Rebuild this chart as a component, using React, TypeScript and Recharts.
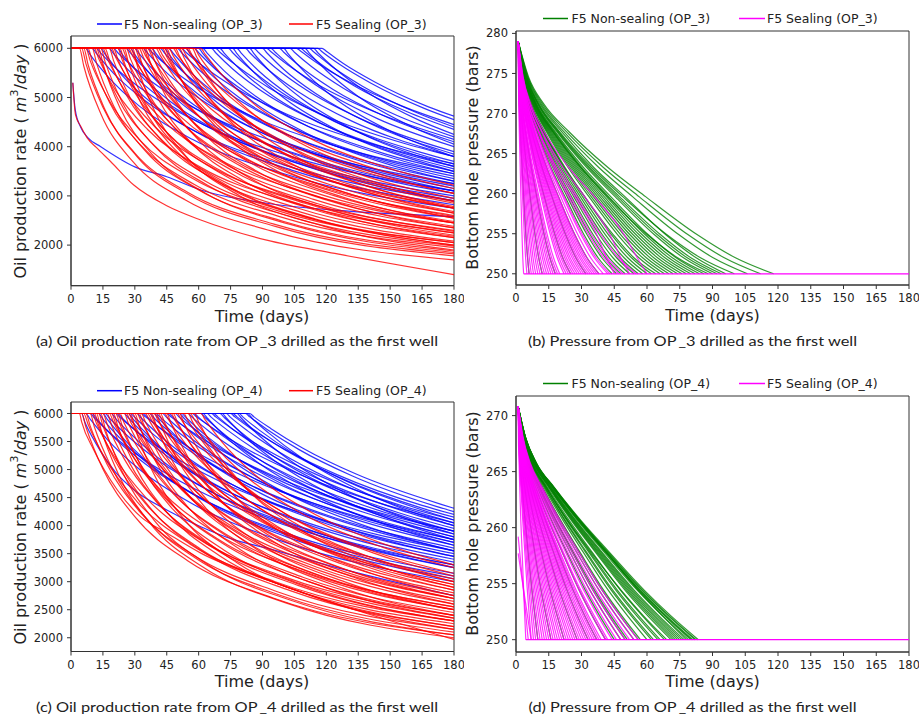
import React from 'react'
import { LineChart, Line, XAxis, YAxis, ReferenceArea } from 'recharts'

const FONT = 'DejaVu Sans, sans-serif'

// axis ticks
const dayTicks = [0, 15, 30, 45, 60, 75, 90, 105, 120, 135, 150, 165, 180]
const lastDay = 180
const rateTicksOP3 = [2000, 3000, 4000, 5000, 6000]
const rateTicksOP4 = [2000, 2500, 3000, 3500, 4000, 4500, 5000, 5500, 6000]
const bhpTicksOP3 = [250, 255, 260, 265, 270, 275, 280]
const bhpTicksOP4 = [250, 255, 260, 265, 270]

// (a) oil rate, OP_3 first. each row: day, rate, day, rate ...
const rateOP3NonSealing = [
  [0.85, 5300, 2, 4750, 4.5, 4400, 8, 4180, 14, 4000, 30, 3590, 45, 3390, 61, 3120, 92, 2850, 124, 2710, 180, 2580],
  [0, 6000, 7, 6000, 9, 5870, 17, 5440, 32, 4830, 57, 4150, 97, 3490, 180, 2750],
  [0, 6000, 10, 6000, 12, 5890, 20, 5490, 35, 4930, 60, 4280, 100, 3630, 180, 2900],
  [0, 6000, 14, 6000, 16, 5880, 24, 5450, 39, 4850, 64, 4180, 104, 3520, 180, 2820],
  [0, 6000, 18, 6000, 20, 5890, 28, 5510, 43, 4960, 68, 4320, 108, 3670, 180, 3000],
  [0, 6000, 22, 6000, 24, 5880, 32, 5480, 47, 4910, 72, 4250, 112, 3590, 180, 2950],
  [0, 6000, 26, 6000, 28, 5900, 36, 5530, 51, 4990, 76, 4360, 116, 3720, 180, 3100],
  [0, 6000, 30, 6000, 32, 5890, 40, 5500, 55, 4940, 80, 4290, 120, 3640, 180, 3050],
  [0, 6000, 34, 6000, 36, 5900, 44, 5540, 59, 5020, 84, 4400, 124, 3760, 180, 3200],
  [0, 6000, 38, 6000, 40, 5890, 48, 5510, 63, 4960, 88, 4320, 128, 3680, 180, 3150],
  [0, 6000, 42, 6000, 44, 5900, 52, 5550, 67, 5040, 92, 4430, 132, 3790, 180, 3300],
  [0, 6000, 46, 6000, 48, 5900, 56, 5520, 71, 4980, 96, 4360, 136, 3710, 180, 3250],
  [0, 6000, 50, 6000, 52, 5910, 60, 5570, 75, 5060, 100, 4460, 140, 3820, 180, 3400],
  [0, 6000, 54, 6000, 56, 5900, 64, 5540, 79, 5000, 104, 4380, 144, 3740, 180, 3350],
  [0, 6000, 58, 6000, 60, 5910, 68, 5570, 83, 5080, 108, 4480, 148, 3850, 180, 3500],
  [0, 6000, 62, 6000, 64, 5900, 72, 5540, 87, 5020, 112, 4400, 152, 3760, 180, 3450],
  [0, 6000, 66, 6000, 68, 5910, 76, 5580, 91, 5090, 116, 4500, 156, 3870, 180, 3600],
  [0, 6000, 70, 6000, 72, 5900, 80, 5550, 95, 5030, 120, 4420, 160, 3780, 180, 3550],
  [0, 6000, 74, 6000, 76, 5910, 84, 5590, 99, 5100, 124, 4510, 164, 3890, 180, 3700],
  [0, 6000, 78, 6000, 80, 5900, 88, 5550, 103, 5040, 128, 4430, 168, 3790, 180, 3650],
  [0, 6000, 82, 6000, 84, 5910, 92, 5590, 107, 5110, 132, 4520, 172, 3900, 180, 3800],
  [0, 6000, 86, 6000, 88, 5920, 96, 5610, 111, 5140, 136, 4570, 176, 3950, 180, 3900],
  [0, 6000, 90, 6000, 92, 5910, 100, 5570, 115, 5080, 140, 4480, 180, 3850],
  [0, 6000, 94, 6000, 96, 5920, 104, 5610, 119, 5140, 144, 4570, 180, 4000],
  [0, 6000, 98, 6000, 100, 5920, 108, 5620, 123, 5170, 148, 4610, 180, 4100],
  [0, 6000, 103, 6000, 105, 5920, 113, 5630, 128, 5190, 153, 4640, 180, 4200],
  [0, 6000, 108, 6000, 110, 5930, 118, 5660, 133, 5240, 158, 4710, 180, 4350],
  [0, 6000, 112, 6000, 114, 5930, 122, 5650, 137, 5230, 162, 4700, 180, 4400],
  [0, 6000, 116, 6000, 118, 5930, 126, 5680, 141, 5290, 166, 4780, 180, 4550],
  [0, 6000, 118, 6000, 120, 5940, 128, 5690, 143, 5310, 168, 4810, 180, 4620],
  [0, 6000, 12, 6000, 14, 5900, 22, 5560, 37, 5060, 62, 4450, 102, 3820, 180, 3100],
  [0, 6000, 20, 6000, 22, 5910, 30, 5590, 45, 5110, 70, 4530, 110, 3910, 180, 3250],
  [0, 6000, 28, 6000, 30, 5870, 38, 5440, 53, 4840, 78, 4160, 118, 3500, 180, 2900],
  [0, 6000, 36, 6000, 38, 5920, 46, 5620, 61, 5160, 86, 4600, 126, 3990, 180, 3450],
  [0, 6000, 44, 6000, 46, 5880, 54, 5470, 69, 4890, 94, 4230, 134, 3580, 180, 3100],
  [0, 6000, 52, 6000, 54, 5920, 62, 5640, 77, 5200, 102, 4650, 142, 4050, 180, 3650],
  [0, 6000, 60, 6000, 62, 5890, 70, 5500, 85, 4930, 110, 4290, 150, 3630, 180, 3300],
  [0, 6000, 68, 6000, 70, 5920, 78, 5640, 93, 5200, 118, 4650, 158, 4050, 180, 3800],
  [0, 6000, 76, 6000, 78, 5890, 86, 5510, 101, 4960, 126, 4320, 166, 3670, 180, 3500],
  [0, 6000, 84, 6000, 86, 5890, 94, 5510, 109, 4960, 134, 4320, 174, 3670, 180, 3600],
  [0, 6000, 92, 6000, 94, 5930, 102, 5660, 117, 5240, 142, 4720, 180, 4150],
  [0, 6000, 100, 6000, 102, 5890, 110, 5510, 125, 4950, 150, 4320, 180, 3800],
  [0, 6000, 106, 6000, 108, 5940, 116, 5690, 131, 5310, 156, 4820, 180, 4450],
  [0, 6000, 110, 6000, 112, 5900, 120, 5550, 135, 5020, 160, 4410, 180, 4050],
  [0, 6000, 114, 6000, 116, 5910, 124, 5590, 139, 5110, 164, 4530, 180, 4250],
]

const rateOP3Sealing = [
  [0.85, 5300, 2.1, 4650, 4.5, 4420, 7.6, 4180, 12, 3980, 18.6, 3700, 29.5, 3220, 45, 2800, 61, 2510, 92, 2100, 124, 1830, 180, 1400],
  [0, 6000, 4, 6000, 6, 5640, 14, 4670, 29, 3700, 54, 2910, 94, 2290, 180, 1700],
  [0, 6000, 5, 6000, 7, 5690, 15, 4800, 30, 3870, 55, 3070, 95, 2430, 180, 1820],
  [0, 6000, 6, 6000, 8, 5670, 16, 4750, 31, 3800, 56, 3010, 96, 2380, 180, 1780],
  [0, 6000, 8, 6000, 10, 5730, 18, 4910, 33, 4020, 58, 3230, 98, 2580, 180, 1950],
  [0, 6000, 10, 6000, 12, 5700, 20, 4830, 35, 3910, 60, 3120, 100, 2480, 180, 1880],
  [0, 6000, 12, 6000, 14, 5750, 22, 4980, 37, 4120, 62, 3330, 102, 2670, 180, 2050],
  [0, 6000, 14, 6000, 16, 5730, 24, 4910, 39, 4020, 64, 3220, 104, 2570, 180, 1980],
  [0, 6000, 16, 6000, 18, 5770, 26, 5050, 41, 4210, 66, 3430, 106, 2760, 180, 2150],
  [0, 6000, 18, 6000, 20, 5750, 28, 4980, 43, 4110, 68, 3320, 108, 2670, 180, 2080],
  [0, 6000, 20, 6000, 22, 5780, 30, 5100, 45, 4290, 70, 3520, 110, 2850, 180, 2250],
  [0, 6000, 22, 6000, 24, 5770, 32, 5040, 47, 4200, 72, 3420, 112, 2750, 180, 2180],
  [0, 6000, 24, 6000, 26, 5800, 34, 5160, 49, 4370, 74, 3610, 114, 2930, 180, 2350],
  [0, 6000, 26, 6000, 28, 5780, 36, 5100, 51, 4280, 76, 3510, 116, 2840, 180, 2280],
  [0, 6000, 28, 6000, 30, 5810, 38, 5200, 53, 4450, 78, 3690, 118, 3020, 180, 2450],
  [0, 6000, 30, 6000, 32, 5800, 40, 5150, 55, 4360, 80, 3600, 120, 2920, 180, 2380],
  [0, 6000, 32, 6000, 34, 5820, 42, 5250, 57, 4520, 82, 3770, 122, 3100, 180, 2550],
  [0, 6000, 34, 6000, 36, 5810, 44, 5200, 59, 4430, 84, 3680, 124, 3000, 180, 2480],
  [0, 6000, 36, 6000, 38, 5840, 46, 5290, 61, 4580, 86, 3850, 126, 3170, 180, 2650],
  [0, 6000, 38, 6000, 40, 5820, 48, 5240, 63, 4500, 88, 3760, 128, 3080, 180, 2580],
  [0, 6000, 40, 6000, 42, 5850, 50, 5330, 65, 4640, 90, 3920, 130, 3250, 180, 2750],
  [0, 6000, 43, 6000, 45, 5830, 53, 5280, 68, 4560, 93, 3820, 133, 3150, 180, 2680],
  [0, 6000, 46, 6000, 48, 5850, 56, 5350, 71, 4690, 96, 3970, 136, 3300, 180, 2850],
  [0, 6000, 49, 6000, 51, 5840, 59, 5310, 74, 4600, 99, 3880, 139, 3200, 180, 2780],
  [0, 6000, 52, 6000, 54, 5860, 62, 5380, 77, 4720, 102, 4020, 142, 3350, 180, 2950],
  [0, 6000, 55, 6000, 57, 5850, 65, 5330, 80, 4650, 105, 3930, 145, 3250, 180, 2880],
  [0, 6000, 58, 6000, 60, 5860, 68, 5400, 83, 4760, 108, 4070, 148, 3400, 180, 3050],
  [0, 6000, 61, 6000, 63, 5880, 71, 5460, 86, 4870, 111, 4200, 151, 3540, 180, 3220],
  [0, 6000, 15, 6000, 17, 5800, 25, 5160, 40, 4380, 65, 3610, 105, 2940, 180, 2300],
  [0, 6000, 25, 6000, 27, 5710, 35, 4870, 50, 3970, 75, 3170, 115, 2530, 180, 2000],
  [0, 6000, 35, 6000, 37, 5750, 45, 4990, 60, 4130, 85, 3340, 125, 2680, 180, 2200],
  [0, 6000, 45, 6000, 47, 5790, 55, 5130, 70, 4320, 95, 3550, 135, 2880, 180, 2450],
  [0, 6000, 7, 6000, 9, 5750, 17, 5010, 32, 4150, 57, 3360, 97, 2700, 180, 2050],
  [0, 6000, 11, 6000, 13, 5790, 21, 5140, 36, 4350, 61, 3580, 101, 2910, 180, 2250],
  [0, 6000, 19, 6000, 21, 5820, 29, 5240, 44, 4500, 69, 3760, 109, 3080, 180, 2450],
  [0, 6000, 23, 6000, 25, 5720, 33, 4880, 48, 3980, 73, 3190, 113, 2540, 180, 2000],
  [0, 6000, 27, 6000, 29, 5840, 37, 5300, 52, 4590, 77, 3860, 117, 3190, 180, 2600],
  [0, 6000, 31, 6000, 33, 5740, 41, 4970, 56, 4100, 81, 3310, 121, 2660, 180, 2150],
  [0, 6000, 33, 6000, 35, 5850, 43, 5350, 58, 4690, 83, 3980, 123, 3300, 180, 2750],
  [0, 6000, 37, 6000, 39, 5780, 47, 5100, 62, 4280, 87, 3510, 127, 2840, 180, 2350],
  [0, 6000, 41, 6000, 43, 5860, 51, 5400, 66, 4760, 91, 4060, 131, 3400, 180, 2900],
  [0, 6000, 44, 6000, 46, 5810, 54, 5200, 69, 4430, 94, 3670, 134, 3000, 180, 2550],
  [0, 6000, 48, 6000, 50, 5870, 58, 5440, 73, 4830, 98, 4150, 138, 3490, 180, 3050],
  [0, 6000, 51, 6000, 53, 5820, 61, 5220, 76, 4470, 101, 3720, 141, 3050, 180, 2650],
  [0, 6000, 54, 6000, 56, 5880, 64, 5460, 79, 4860, 104, 4200, 144, 3540, 180, 3150],
  [0, 6000, 57, 6000, 59, 5830, 67, 5250, 82, 4520, 107, 3770, 147, 3100, 180, 2750],
  [0, 6000, 13, 6000, 15, 5690, 23, 4790, 38, 3850, 63, 3060, 103, 2420, 180, 1850],
  [0, 6000, 29, 6000, 31, 5670, 39, 4750, 54, 3810, 79, 3010, 119, 2380, 180, 1900],
]

// (c) oil rate, OP_4 first
const rateOP4NonSealing = [
  [0, 6000, 5, 6000, 6.5, 5850, 10, 5580, 14, 5320, 21, 4950, 29.5, 4640, 45, 4280, 61, 3980, 76.5, 3750, 92, 3600, 124, 3260, 180, 2750],
  [0, 6000, 7, 6000, 9, 5900, 17, 5540, 32, 5010, 57, 4390, 97, 3750, 180, 3000],
  [0, 6000, 10, 6000, 12, 5910, 20, 5580, 35, 5100, 60, 4510, 100, 3880, 180, 3150],
  [0, 6000, 13, 6000, 15, 5900, 23, 5560, 38, 5050, 63, 4450, 103, 3810, 180, 3100],
  [0, 6000, 16, 6000, 18, 5920, 26, 5620, 41, 5160, 66, 4600, 106, 3990, 180, 3300],
  [0, 6000, 19, 6000, 21, 5910, 29, 5600, 44, 5120, 69, 4540, 109, 3920, 180, 3250],
  [0, 6000, 22, 6000, 24, 5920, 32, 5640, 47, 5190, 72, 4640, 112, 4040, 180, 3400],
  [0, 6000, 25, 6000, 27, 5920, 35, 5610, 50, 5150, 75, 4590, 115, 3970, 180, 3350],
  [0, 6000, 28, 6000, 30, 5930, 38, 5650, 53, 5220, 78, 4690, 118, 4090, 180, 3500],
  [0, 6000, 31, 6000, 33, 5920, 41, 5630, 56, 5180, 81, 4630, 121, 4020, 180, 3450],
  [0, 6000, 34, 6000, 36, 5930, 44, 5670, 59, 5250, 84, 4730, 124, 4140, 180, 3600],
  [0, 6000, 37, 6000, 39, 5920, 47, 5650, 62, 5210, 87, 4670, 127, 4080, 180, 3550],
  [0, 6000, 40, 6000, 42, 5930, 50, 5680, 65, 5280, 90, 4770, 130, 4190, 180, 3700],
  [0, 6000, 43, 6000, 45, 5930, 53, 5660, 68, 5240, 93, 4710, 133, 4120, 180, 3650],
  [0, 6000, 46, 6000, 48, 5930, 56, 5680, 71, 5280, 96, 4770, 136, 4190, 180, 3750],
  [0, 6000, 49, 6000, 51, 5930, 59, 5690, 74, 5290, 99, 4790, 139, 4220, 180, 3800],
  [0, 6000, 52, 6000, 54, 5930, 62, 5650, 77, 5230, 102, 4690, 142, 4100, 180, 3700],
  [0, 6000, 55, 6000, 57, 5930, 65, 5680, 80, 5290, 105, 4790, 145, 4210, 180, 3850],
  [0, 6000, 58, 6000, 60, 5930, 68, 5690, 83, 5300, 108, 4800, 148, 4230, 180, 3900],
  [0, 6000, 61, 6000, 63, 5930, 71, 5660, 86, 5240, 111, 4700, 151, 4110, 180, 3800],
  [0, 6000, 64, 6000, 66, 5930, 74, 5690, 89, 5300, 114, 4800, 154, 4230, 180, 3950],
  [0, 6000, 67, 6000, 69, 5940, 77, 5690, 92, 5310, 117, 4820, 157, 4250, 180, 4000],
  [0, 6000, 70, 6000, 72, 5930, 80, 5660, 95, 5240, 120, 4710, 160, 4120, 180, 3900],
  [0, 6000, 73, 6000, 75, 5930, 83, 5690, 98, 5310, 123, 4810, 163, 4240, 180, 4050],
  [0, 6000, 76, 6000, 78, 5940, 86, 5710, 101, 5340, 126, 4860, 166, 4300, 180, 4150],
  [0, 6000, 79, 6000, 81, 5930, 89, 5690, 104, 5300, 129, 4800, 169, 4230, 180, 4100],
  [0, 6000, 82, 6000, 84, 5940, 92, 5720, 107, 5360, 132, 4890, 172, 4340, 180, 4250],
  [0, 6000, 84, 6000, 86, 5940, 94, 5730, 109, 5380, 134, 4920, 174, 4380, 180, 4310],
  [0, 6000, 9, 6000, 11, 5920, 19, 5630, 34, 5190, 59, 4640, 99, 4030, 180, 3300],
  [0, 6000, 15, 6000, 17, 5900, 25, 5540, 40, 5010, 65, 4390, 105, 3750, 180, 3050],
  [0, 6000, 21, 6000, 23, 5930, 31, 5680, 46, 5280, 71, 4770, 111, 4190, 180, 3550],
  [0, 6000, 27, 6000, 29, 5910, 37, 5580, 52, 5080, 77, 4490, 117, 3860, 180, 3250],
  [0, 6000, 33, 6000, 35, 5940, 43, 5710, 58, 5330, 83, 4850, 123, 4290, 180, 3750],
  [0, 6000, 39, 6000, 41, 5920, 49, 5610, 64, 5150, 89, 4580, 129, 3960, 180, 3450],
  [0, 6000, 45, 6000, 47, 5940, 55, 5720, 70, 5360, 95, 4890, 135, 4340, 180, 3900],
  [0, 6000, 51, 6000, 53, 5920, 61, 5610, 76, 5150, 101, 4580, 141, 3960, 180, 3550],
  [0, 6000, 57, 6000, 59, 5940, 67, 5730, 82, 5380, 107, 4920, 147, 4380, 180, 4050],
  [0, 6000, 62, 6000, 64, 5920, 72, 5610, 87, 5150, 112, 4580, 152, 3960, 180, 3650],
  [0, 6000, 66, 6000, 68, 5940, 76, 5720, 91, 5370, 116, 4900, 156, 4350, 180, 4100],
  [0, 6000, 71, 6000, 73, 5920, 81, 5610, 96, 5150, 121, 4580, 161, 3970, 180, 3750],
  [0, 6000, 75, 6000, 77, 5940, 85, 5720, 100, 5370, 125, 4910, 165, 4360, 180, 4200],
  [0, 6000, 78, 6000, 80, 5920, 88, 5620, 103, 5160, 128, 4600, 168, 3990, 180, 3850],
  [0, 6000, 83, 6000, 85, 5920, 93, 5650, 108, 5220, 133, 4680, 173, 4080, 180, 4000],
]

const rateOP4Sealing = [
  [0, 6000, 4, 6000, 5, 5850, 10.7, 5350, 21.7, 4640, 32.7, 4160, 45, 3870, 61, 3510, 92, 3035, 123.5, 2620, 180, 1970],
  [0, 6000, 5, 6000, 7, 5760, 15, 5010, 30, 4160, 55, 3370, 95, 2710, 180, 2050],
  [0, 6000, 7, 6000, 9, 5780, 17, 5090, 32, 4260, 57, 3490, 97, 2820, 180, 2150],
  [0, 6000, 9, 6000, 11, 5760, 19, 5040, 34, 4190, 59, 3410, 99, 2750, 180, 2100],
  [0, 6000, 11, 6000, 13, 5790, 21, 5140, 36, 4350, 61, 3580, 101, 2910, 180, 2250],
  [0, 6000, 13, 6000, 15, 5780, 23, 5100, 38, 4280, 63, 3510, 103, 2840, 180, 2200],
  [0, 6000, 15, 6000, 17, 5810, 25, 5190, 40, 4430, 65, 3670, 105, 3000, 180, 2350],
  [0, 6000, 17, 6000, 19, 5800, 27, 5150, 42, 4360, 67, 3600, 107, 2930, 180, 2300],
  [0, 6000, 19, 6000, 21, 5820, 29, 5240, 44, 4500, 69, 3760, 109, 3080, 180, 2450],
  [0, 6000, 21, 6000, 23, 5810, 31, 5200, 46, 4440, 71, 3690, 111, 3010, 180, 2400],
  [0, 6000, 23, 6000, 25, 5830, 33, 5290, 48, 4570, 73, 3840, 113, 3160, 180, 2550],
  [0, 6000, 25, 6000, 27, 5820, 35, 5250, 50, 4510, 75, 3770, 115, 3090, 180, 2500],
  [0, 6000, 27, 6000, 29, 5850, 37, 5330, 52, 4640, 77, 3920, 117, 3240, 180, 2650],
  [0, 6000, 29, 6000, 31, 5840, 39, 5290, 54, 4580, 79, 3850, 119, 3170, 180, 2600],
  [0, 6000, 31, 6000, 33, 5850, 41, 5360, 56, 4700, 81, 3990, 121, 3320, 180, 2750],
  [0, 6000, 33, 6000, 35, 5850, 43, 5330, 58, 4640, 83, 3920, 123, 3250, 180, 2700],
  [0, 6000, 35, 6000, 37, 5860, 45, 5400, 60, 4760, 85, 4060, 125, 3390, 180, 2850],
  [0, 6000, 37, 6000, 39, 5860, 47, 5360, 62, 4700, 87, 4000, 127, 3320, 180, 2800],
  [0, 6000, 39, 6000, 41, 5870, 49, 5430, 64, 4810, 89, 4130, 129, 3460, 180, 2950],
  [0, 6000, 41, 6000, 43, 5860, 51, 5400, 66, 4760, 91, 4060, 131, 3400, 180, 2900],
  [0, 6000, 44, 6000, 46, 5880, 54, 5450, 69, 4860, 94, 4190, 134, 3520, 180, 3050],
  [0, 6000, 47, 6000, 49, 5870, 57, 5420, 72, 4800, 97, 4110, 137, 3450, 180, 3000],
  [0, 6000, 50, 6000, 52, 5880, 60, 5470, 75, 4890, 100, 4230, 140, 3570, 180, 3150],
  [0, 6000, 53, 6000, 55, 5870, 63, 5440, 78, 4830, 103, 4160, 143, 3500, 180, 3100],
  [0, 6000, 56, 6000, 58, 5890, 66, 5490, 81, 4920, 106, 4270, 146, 3620, 180, 3250],
  [0, 6000, 61, 6000, 63, 5890, 71, 5490, 86, 4920, 111, 4280, 151, 3620, 180, 3300],
  [0, 6000, 20, 6000, 22, 5770, 30, 5070, 45, 4240, 70, 3460, 110, 2790, 180, 2200],
  [0, 6000, 30, 6000, 32, 5790, 40, 5130, 55, 4330, 80, 3560, 120, 2890, 180, 2350],
  [0, 6000, 40, 6000, 42, 5810, 50, 5180, 65, 4410, 90, 3650, 130, 2980, 180, 2500],
  [0, 6000, 12, 6000, 14, 5730, 22, 4940, 37, 4050, 62, 3260, 102, 2610, 180, 2000],
  [0, 6000, 6, 6000, 8, 5810, 16, 5200, 31, 4430, 56, 3670, 96, 3000, 180, 2300],
  [0, 6000, 10, 6000, 12, 5820, 20, 5250, 35, 4510, 60, 3760, 100, 3090, 180, 2400],
  [0, 6000, 14, 6000, 16, 5740, 24, 4970, 39, 4100, 64, 3310, 104, 2660, 180, 2050],
  [0, 6000, 18, 6000, 20, 5840, 28, 5300, 43, 4600, 68, 3870, 108, 3200, 180, 2550],
  [0, 6000, 22, 6000, 24, 5790, 32, 5130, 47, 4330, 72, 3560, 112, 2890, 180, 2300],
  [0, 6000, 26, 6000, 28, 5850, 36, 5350, 51, 4690, 76, 3980, 116, 3300, 180, 2700],
  [0, 6000, 28, 6000, 30, 5750, 38, 4990, 53, 4120, 78, 3340, 118, 2680, 180, 2150],
  [0, 6000, 32, 6000, 34, 5820, 42, 5220, 57, 4470, 82, 3720, 122, 3040, 180, 2500],
  [0, 6000, 36, 6000, 38, 5870, 46, 5440, 61, 4830, 86, 4150, 126, 3490, 180, 2950],
  [0, 6000, 38, 6000, 40, 5790, 48, 5130, 63, 4330, 88, 3560, 128, 2880, 180, 2400],
  [0, 6000, 42, 6000, 44, 5840, 52, 5290, 67, 4580, 92, 3850, 132, 3180, 180, 2700],
  [0, 6000, 45, 6000, 47, 5820, 55, 5220, 70, 4470, 95, 3720, 135, 3050, 180, 2600],
  [0, 6000, 48, 6000, 50, 5850, 58, 5350, 73, 4670, 98, 3960, 138, 3280, 180, 2850],
  [0, 6000, 51, 6000, 53, 5830, 61, 5280, 76, 4560, 101, 3830, 141, 3150, 180, 2750],
  [0, 6000, 55, 6000, 57, 5860, 65, 5390, 80, 4740, 105, 4050, 145, 3380, 180, 3000],
  [0, 6000, 58, 6000, 60, 5850, 68, 5330, 83, 4640, 108, 3920, 148, 3240, 180, 2900],
]

// (b) bottom hole pressure, OP_3 first: day each run reaches these levels
const bhpLevelsOP3 = [279, 274.6, 271.2, 267.7, 263.3, 259.6, 254.9, 252, 250]
const bhpOP3NonSealing = [
  [1, 1.2, 1.5, 2.0, 2.8, 3.5, 4.5, 5.3, 6],
  [1, 1.4, 2.1, 3.2, 4.9, 6.5, 8.7, 10.4, 12],
  [1, 1.7, 2.7, 4.4, 7, 9.5, 12.9, 15.5, 18],
  [1, 2, 3.4, 5.8, 9.4, 13, 17.8, 21.4, 25],
  [1, 2.2, 4.1, 7.2, 11.9, 16.5, 22.7, 27.4, 32],
  [1, 2.5, 4.7, 8.4, 14, 19.5, 26.9, 32.5, 38],
  [1, 2.7, 5.3, 9.6, 16, 22.5, 31.1, 37.6, 44],
  [1, 2.9, 5.7, 10.4, 17.5, 24.5, 33.9, 41, 48],
  [1, 3, 6.1, 11.2, 18.9, 26.5, 36.7, 44.4, 52],
  [1, 3.2, 6.5, 12, 20.3, 28.5, 39.5, 47.8, 56],
  [1, 3.4, 6.9, 12.8, 21.7, 30.5, 42.3, 51.2, 60],
  [1, 3.3, 6.8, 12.8, 22, 31.5, 44.5, 54, 64],
  [1, 3.7, 7.7, 14.4, 24.5, 34.5, 47.9, 58, 68],
  [1, 3.8, 8.1, 15.2, 25.9, 36.5, 50.7, 61.4, 72],
  [1, 4, 8.5, 16, 27.3, 38.5, 53.5, 64.8, 76],
  [1, 4.2, 8.9, 16.8, 28.7, 40.5, 56.3, 68.2, 80],
  [1, 4.3, 9.3, 17.6, 30, 42.5, 59.1, 71.6, 84],
  [1, 4.2, 8.9, 17, 29.5, 42, 60, 74, 88],
  [1, 4.6, 10.1, 19.2, 32.9, 46.5, 64.7, 78.4, 92],
  [1, 5, 11, 21, 35.5, 50, 68.5, 82.5, 96],
  [1, 4.8, 10.5, 20, 34.5, 49, 69, 84.5, 100],
  [1, 5.2, 11.5, 22, 37.8, 53.5, 74.5, 90.3, 106],
  [1, 5.4, 12.1, 23.2, 39.9, 56.5, 78.7, 95.4, 112],
  [1, 5.7, 12.7, 24.4, 42, 59.5, 82.9, 100.5, 118],
  [1, 2.8, 5.5, 10, 16.8, 23.5, 32.5, 39.3, 46],
  [1, 3, 5.9, 10.8, 18.2, 25.5, 35.3, 42.7, 50],
  [1, 3.1, 6.3, 11.6, 19.6, 27.5, 38.1, 46.1, 54],
  [1, 3.3, 6.7, 12.4, 21, 29.5, 40.9, 49.5, 58],
  [1, 3.4, 7.1, 13.2, 22.4, 31.5, 43.7, 52.9, 62],
  [1, 3.6, 7.5, 14, 23.8, 33.5, 46.5, 56.3, 66],
  [1, 3.8, 7.9, 14.8, 25.2, 35.5, 49.3, 59.7, 70],
  [1, 3.9, 8.3, 15.6, 26.6, 37.5, 52.1, 63.1, 74],
  [1, 4.1, 8.7, 16.4, 28, 39.5, 54.9, 66.5, 78],
  [1, 4.2, 9.1, 17.2, 29.4, 41.5, 57.7, 69.9, 82],
  [1, 4.4, 9.5, 18, 30.8, 43.5, 60.5, 73.3, 86],
  [1, 4.6, 9.9, 18.8, 32.2, 45.5, 63.3, 76.7, 90],
  [1, 4.7, 10.3, 19.6, 33.6, 47.5, 66.1, 80.1, 94],
]
const bhpOP3Sealing = [
  [1, 1.1, 1.25, 1.5, 1.9, 2.25, 2.75, 3.1, 3.5],
  [1, 1.16, 1.4, 1.8, 2.4, 3, 3.8, 4.4, 5],
  [1, 1.2, 1.5, 2, 2.8, 3.5, 4.5, 5.3, 6],
  [1, 1.24, 1.6, 2.2, 3.1, 4, 5.2, 6.1, 7],
  [1, 1.3, 1.7, 2.4, 3.5, 4.5, 5.9, 7, 8],
  [1, 1.32, 1.8, 2.6, 3.8, 5, 6.6, 7.8, 9],
  [1, 1.4, 1.9, 2.8, 4.2, 5.5, 7.3, 8.7, 10],
  [1, 1.4, 2, 3, 4.5, 6, 8, 9.5, 11],
  [1, 1.4, 2.1, 3.2, 4.9, 6.5, 8.7, 10.4, 12],
  [1, 1.5, 2.2, 3.4, 5.2, 7, 9.4, 11.2, 13],
  [1, 1.5, 2.3, 3.6, 5.6, 7.5, 10.1, 12.1, 14],
  [1, 1.6, 2.4, 3.8, 5.9, 8, 10.8, 12.9, 15],
  [1, 1.6, 2.5, 4, 6.3, 8.5, 11.5, 13.8, 16],
  [1, 1.6, 2.6, 4.2, 6.6, 9, 12.2, 14.6, 17],
  [1, 1.7, 2.7, 4.4, 7, 9.5, 12.9, 15.5, 18],
  [1, 1.7, 2.8, 4.6, 7.3, 10, 13.6, 16.3, 19],
  [1, 1.8, 2.9, 4.8, 7.7, 10.5, 14.3, 17.2, 20],
  [1, 1.8, 3.1, 5.2, 8.4, 11.5, 15.7, 18.9, 22],
  [1, 1.9, 3.3, 5.6, 9.1, 12.5, 17.1, 20.6, 24],
  [1, 2, 3.5, 6, 9.8, 13.5, 18.5, 22.3, 26],
  [1, 2.1, 3.7, 6.4, 10.5, 14.5, 19.9, 24, 28],
  [1, 2.2, 3.9, 6.8, 11.2, 15.5, 21.3, 25.7, 30],
  [1, 2.3, 4.2, 7.4, 12.2, 17, 23.4, 28.2, 33],
  [1, 2.4, 4.5, 8, 13.3, 18.5, 25.5, 30.8, 36],
  [1, 2.6, 4.9, 8.8, 14.7, 20.5, 28.3, 34.2, 40],
  [1, 2.8, 5.6, 10.5, 18.5, 27, 37, 41.5, 45],
  [1, 3, 6.3, 12, 21.5, 31.5, 43, 48, 52],
  [1, 3.2, 6.8, 13, 24, 36, 49.5, 55.5, 60],
  [1, 1.9, 3.2, 5.4, 8.7, 12, 16.4, 19.7, 23],
  [1, 2, 3.4, 5.8, 9.4, 13, 17.8, 21.4, 25],
  [1, 2, 3.6, 6.2, 10.1, 14, 19.2, 23.1, 27],
  [1, 2.1, 3.8, 6.6, 10.8, 15, 20.6, 24.8, 29],
  [1, 2.2, 4, 7, 11.5, 16, 22, 26.5, 31],
  [1, 2.2, 4.1, 7.2, 11.9, 16.5, 22.7, 27.4, 32],
  [1, 2.3, 4.3, 7.6, 12.6, 17.5, 24.1, 29.1, 34],
  [1, 2.4, 4.4, 7.8, 12.9, 18, 24.8, 29.9, 35],
  [1, 2.4, 4.6, 8.2, 13.6, 19, 26.2, 31.6, 37],
  [1, 2.5, 4.7, 8.4, 14, 19.5, 26.9, 32.5, 38],
  [1, 2.6, 5.1, 9.2, 15.4, 21.5, 29.7, 35.9, 42],
  [1, 2.7, 5.2, 9.4, 15.7, 22, 30.4, 36.7, 43],
  [1, 2.8, 5.6, 10.2, 17.1, 24, 33.2, 40.1, 47],
  [1, 2.9, 5.8, 10.6, 17.8, 25, 34.6, 41.8, 49],
  [1, 3.2, 6.4, 11.8, 19.9, 28, 38.8, 46.9, 55],
]

// (d) bottom hole pressure, OP_4 first
const bhpLevelsOP4 = [270.8, 268.1, 265.8, 263.6, 260.6, 257.9, 254.4, 252.1, 250]
const bhpOP4NonSealing = [
  [1, 1.4, 1.9, 2.8, 4.2, 5.5, 7.3, 8.7, 10],
  [1, 1.6, 2.5, 4, 6.3, 8.5, 11.5, 13.8, 16],
  [1, 1.8, 3.1, 5.2, 8.4, 11.5, 15.7, 18.9, 22],
  [1, 2.1, 3.7, 6.4, 10.5, 14.5, 19.9, 24, 28],
  [1, 2.3, 4.2, 7.4, 12.2, 17, 23.4, 28.2, 33],
  [1, 2.4, 4.6, 8.2, 13.6, 19, 26.2, 31.6, 37],
  [1, 2.6, 5, 9, 15, 21, 29, 35, 41],
  [1, 2.8, 5.4, 9.8, 16.4, 23, 31.8, 38.4, 45],
  [1, 2.9, 5.7, 10.4, 17.5, 24.5, 33.9, 41, 48],
  [1, 3, 6, 11, 18.5, 26, 36, 43.5, 51],
  [1, 3.1, 6.3, 11.6, 19.6, 27.5, 38.1, 46.1, 54],
  [1, 3.2, 6.6, 12.2, 20.6, 29, 40.2, 48.6, 57],
  [1, 3.4, 6.9, 12.8, 21.7, 30.5, 42.3, 51.2, 60],
  [1, 3.5, 7.2, 13.4, 22.7, 32, 44.4, 53.7, 63],
  [1, 3.6, 7.5, 14, 23.8, 33.5, 46.5, 56.3, 66],
  [1, 3.5, 7.3, 13.8, 23.8, 34, 48.2, 58.5, 69],
  [1, 3.8, 8.1, 15.2, 25.9, 36.5, 50.7, 61.4, 72],
  [1, 3.9, 8.3, 15.6, 26.6, 37.5, 52.1, 63.1, 74],
  [1, 4, 8.5, 16, 27.3, 38.5, 53.5, 64.8, 76],
  [1, 4.3, 9.2, 17.4, 29.5, 41, 56, 67.2, 78],
  [1, 4.2, 8.9, 16.8, 28.7, 40.5, 56.3, 68.2, 80],
  [1, 4.2, 9, 17, 29, 41, 57, 69, 81],
  [1, 4.2, 9.1, 17.2, 29.4, 41.5, 57.7, 69.9, 82],
  [1, 4.3, 9.3, 17.5, 29.9, 42.3, 58.8, 71.1, 83.5],
  [1, 3, 5.9, 10.8, 18.2, 25.5, 35.3, 42.7, 50],
  [1, 3.2, 6.5, 12, 20.3, 28.5, 39.5, 47.8, 56],
  [1, 3.4, 7.1, 13.2, 22.4, 31.5, 43.7, 52.9, 62],
  [1, 3.6, 7.4, 13.8, 23.4, 33, 45.8, 55.4, 65],
  [1, 3.7, 7.7, 14.4, 24.5, 34.5, 47.9, 58, 68],
  [1, 3.8, 8, 15, 25.5, 36, 50, 60.5, 71],
  [1, 3.9, 8.2, 15.4, 26.2, 37, 51.4, 62.2, 73],
  [1, 4, 8.4, 15.8, 26.9, 38, 52.8, 63.9, 75],
  [1, 4, 8.6, 16.2, 27.6, 39, 54.2, 65.6, 77],
  [1, 4.1, 8.8, 16.6, 28.3, 40, 55.6, 67.3, 79],
  [1, 4.2, 9, 16.9, 28.8, 40.8, 56.7, 68.6, 80.5],
  [1, 4.3, 9.2, 17.3, 29.5, 41.8, 58.1, 70.3, 82.5],
]
const bhpOP4Sealing = [
  [1, 1.1, 1.4, 1.7, 2.2, 2.8, 3.5, 4, 4.5],
  [1, 1.2, 1.6, 2.2, 3.1, 4, 5.2, 6.1, 7],
  [1, 1.3, 1.7, 2.4, 3.5, 4.5, 5.9, 7, 8],
  [1, 1.3, 1.8, 2.6, 3.8, 5, 6.6, 7.8, 9],
  [1, 1.4, 1.9, 2.8, 4.2, 5.5, 7.3, 8.7, 10],
  [1, 1.4, 2, 3, 4.5, 6, 8, 9.5, 11],
  [1, 1.4, 2.1, 3.2, 4.9, 6.5, 8.7, 10.4, 12],
  [1, 1.5, 2.2, 3.4, 5.2, 7, 9.4, 11.2, 13],
  [1, 1.5, 2.3, 3.6, 5.6, 7.5, 10.1, 12.1, 14],
  [1, 1.6, 2.4, 3.8, 5.9, 8, 10.8, 12.9, 15],
  [1, 1.6, 2.5, 4, 6.3, 8.5, 11.5, 13.8, 16],
  [1, 1.6, 2.6, 4.2, 6.6, 9, 12.2, 14.6, 17],
  [1, 1.7, 2.7, 4.4, 7, 9.5, 12.9, 15.5, 18],
  [1, 1.7, 2.8, 4.6, 7.3, 10, 13.6, 16.3, 19],
  [1, 1.8, 2.9, 4.8, 7.7, 10.5, 14.3, 17.2, 20],
  [1, 1.8, 3.1, 5.2, 8.4, 11.5, 15.7, 18.9, 22],
  [1, 1.9, 3.3, 5.6, 9.1, 12.5, 17.1, 20.6, 24],
  [1, 2, 3.5, 6, 9.8, 13.5, 18.5, 22.3, 26],
  [1, 2.1, 3.7, 6.4, 10.5, 14.5, 19.9, 24, 28],
  [1, 2.2, 3.9, 6.8, 11.2, 15.5, 21.3, 25.7, 30],
  [1, 2.2, 4.1, 7.2, 11.9, 16.5, 22.7, 27.4, 32],
  [1, 2.4, 4.4, 7.8, 12.9, 18, 24.8, 29.9, 35],
  [1, 2.5, 4.7, 8.4, 14, 19.5, 26.9, 32.5, 38],
  [1, 2.6, 5, 9, 15, 21, 29, 35, 41],
  [1, 2.7, 5.3, 9.6, 16, 22.5, 31.1, 37.6, 44],
  [1, 2.9, 5.7, 10.4, 17.5, 24.5, 33.9, 41, 48],
  [1, 3, 6.1, 11.2, 18.9, 26.5, 36.7, 44.4, 52],
  [1, 3.2, 6.5, 12, 20.3, 28.5, 39.5, 47.8, 56],
  [1, 1.8, 3, 5, 8, 11, 15, 18, 21],
  [1, 1.9, 3.2, 5.4, 8.7, 12, 16.4, 19.7, 23],
  [1, 2, 3.4, 5.8, 9.4, 13, 17.8, 21.4, 25],
  [1, 2, 3.6, 6.2, 10.1, 14, 19.2, 23.1, 27],
  [1, 2.1, 3.8, 6.6, 10.8, 15, 20.6, 24.8, 29],
  [1, 2.2, 4, 7, 11.5, 16, 22, 26.5, 31],
  [1, 2.3, 4.2, 7.4, 12.2, 17, 23.4, 28.2, 33],
  [1, 2.3, 4.3, 7.6, 12.6, 17.5, 24.1, 29.1, 34],
  [1, 2.4, 4.5, 8, 13.3, 18.5, 25.5, 30.8, 36],
  [1, 2.4, 4.6, 8.2, 13.6, 19, 26.2, 31.6, 37],
  [1, 2.5, 4.8, 8.6, 14.3, 20, 27.6, 33.3, 39],
  [1, 2.6, 5.1, 9.2, 15.4, 21.5, 29.7, 35.9, 42],
  [1, 2.8, 5.5, 10, 16.8, 23.5, 32.5, 39.3, 46],
  [1, 3, 5.9, 10.8, 18.2, 25.5, 35.3, 42.7, 50],
  [1, 3.1, 6.3, 11.6, 19.6, 27.5, 38.1, 46.1, 54],
]
// two sealing runs in (d) that start lower: day, pressure pairs
const bhpOP4SealingLow = [
  [1, 259.2, 5.6, 250],
  [1, 257.7, 6.9, 250],
]

type Pt = { t: number; v: number }

const toPoints = (row: number[]): Pt[] => {
  const pts: Pt[] = []
  for (let i = 0; i < row.length; i += 2) pts.push({ t: row[i], v: row[i + 1] })
  return pts
}
const atLevels = (levels: number[]) => (row: number[]): Pt[] => row.map((t, i) => ({ t, v: levels[i] }))

type Series = { color: string; curves: Pt[][] }

const PAD_L = 70
const PAD_T = 10
const PAD_R = 10
const PAD_B = 35
const tickStyle = { fill: '#222', fontSize: 11.5, fontFamily: FONT }

function Panel({ x, y, w, h, yDomain, yTicks, series, floor }: {
  x: number; y: number; w: number; h: number
  yDomain: [number, number]; yTicks: number[]
  series: Series[]; floor?: { v: number; color: string }
}) {
  const lines = series.flatMap((s, si) =>
    s.curves.map((c, ci) => (
      <Line key={`${si}-${ci}`} data={c} dataKey="v" type="monotone" stroke={s.color} strokeWidth={1.2}
        strokeOpacity={0.8} dot={false} activeDot={false} isAnimationActive={false} />
    ))
  )
  // once a run hits the pressure limit it stays there until the last day
  let floorLine = null
  if (floor) {
    const firstHit = Math.min(...series.flatMap(s => s.curves.map(c => c[c.length - 1].t)))
    floorLine = (
      <Line key="floor" data={[{ t: firstHit, v: floor.v }, { t: lastDay, v: floor.v }]} dataKey="v" type="linear"
        stroke={floor.color} strokeWidth={1.3} dot={false} activeDot={false} isAnimationActive={false} />
    )
  }
  return (
    <div style={{ position: 'absolute', left: x - PAD_L, top: y - PAD_T }}>
      <LineChart width={w + PAD_L + PAD_R} height={h + PAD_T + PAD_B} margin={{ top: PAD_T, right: PAD_R, bottom: 0, left: 0 }}>
        <XAxis type="number" dataKey="t" domain={[0, lastDay]} ticks={dayTicks} interval={0} height={PAD_B}
          tickSize={4} tickMargin={5} stroke="#333" tick={tickStyle} allowDataOverflow />
        <YAxis type="number" domain={yDomain} ticks={yTicks} interval={0} width={PAD_L}
          tickSize={4} tickMargin={4} stroke="#333" tick={tickStyle} allowDataOverflow />
        {lines}
        {floorLine}
        <ReferenceArea x1={0} x2={lastDay} y1={yDomain[0]} y2={yDomain[1]} fill="none" stroke="#333" strokeWidth={1} ifOverflow="visible" />
      </LineChart>
    </div>
  )
}

const BLUE = '#0000ff'
const RED = '#ff0000'
const GREEN = '#008000'
const MAGENTA = '#ff00ff'

function LegendRow({ y, items }: { y: number; items: { x1: number; x2: number; tx: number; color: string; label: string }[] }) {
  return (
    <g>
      {items.map(it => (
        <g key={it.label}>
          <line x1={it.x1} x2={it.x2} y1={y} y2={y} stroke={it.color} strokeWidth={1.5} />
          <text x={it.tx} y={y} dominantBaseline="central" fontSize={12.5} fontFamily={FONT} fill="#222">{it.label}</text>
        </g>
      ))}
    </g>
  )
}

function RateLabel({ cx, cy }: { cx: number; cy: number }) {
  return (
    <text transform={`translate(${cx},${cy}) rotate(-90)`} textAnchor="middle" dominantBaseline="central" fontSize={16} fontFamily={FONT} fill="#222">
      Oil production rate ( <tspan fontStyle="italic">m</tspan><tspan dy={-6} fontSize={11}>3</tspan><tspan dy={6}>/</tspan><tspan fontStyle="italic">day</tspan> )
    </text>
  )
}

function BhpLabel({ cx, cy }: { cx: number; cy: number }) {
  return (
    <text transform={`translate(${cx},${cy}) rotate(-90)`} textAnchor="middle" dominantBaseline="central" fontSize={16} fontFamily={FONT} fill="#222">
      Bottom hole pressure (bars)
    </text>
  )
}

function TimeLabel({ cx, cy }: { cx: number; cy: number }) {
  return <text x={cx} y={cy} textAnchor="middle" dominantBaseline="central" fontSize={16} fontFamily={FONT} fill="#222">Time (days)</text>
}

function Caption({ cx, y, w, text }: { cx: number; y: number; w: number; text: string }) {
  return (
    <text x={cx} y={y} textAnchor="middle" fontSize={14} fontFamily="Lato, sans-serif" fill="#222" textLength={w} lengthAdjust="spacingAndGlyphs">
      {text}
    </text>
  )
}

export default function App() {
  return (
    <div style={{ position: 'absolute', left: 0, top: 0, width: 921, height: 716, background: '#fff', overflow: 'hidden' }}>
      <Panel x={70.5} y={36} w={383} h={249.7} yDomain={[1175, 6250]} yTicks={rateTicksOP3}
        series={[{ color: BLUE, curves: rateOP3NonSealing.map(toPoints) }, { color: RED, curves: rateOP3Sealing.map(toPoints) }]} />
      <Panel x={516} y={30.5} w={393} h={254} yDomain={[248.6, 280.3]} yTicks={bhpTicksOP3}
        floor={{ v: bhpLevelsOP3[bhpLevelsOP3.length - 1], color: MAGENTA }}
        series={[{ color: GREEN, curves: bhpOP3NonSealing.map(atLevels(bhpLevelsOP3)) }, { color: MAGENTA, curves: bhpOP3Sealing.map(atLevels(bhpLevelsOP3)) }]} />
      <Panel x={70.5} y={402} w={383} h={249.5} yDomain={[1755, 6205]} yTicks={rateTicksOP4}
        series={[{ color: BLUE, curves: rateOP4NonSealing.map(toPoints) }, { color: RED, curves: rateOP4Sealing.map(toPoints) }]} />
      <Panel x={516} y={395.7} w={393} h={256} yDomain={[248.9, 271.75]} yTicks={bhpTicksOP4}
        floor={{ v: bhpLevelsOP4[bhpLevelsOP4.length - 1], color: MAGENTA }}
        series={[
          { color: GREEN, curves: bhpOP4NonSealing.map(atLevels(bhpLevelsOP4)) },
          { color: MAGENTA, curves: [...bhpOP4Sealing.map(atLevels(bhpLevelsOP4)), ...bhpOP4SealingLow.map(toPoints)] },
        ]} />

      <svg width={921} height={716} style={{ position: 'absolute', left: 0, top: 0, pointerEvents: 'none' }}>
        <LegendRow y={24} items={[
          { x1: 97, x2: 122, tx: 124, color: BLUE, label: 'F5 Non-sealing (OP_3)' },
          { x1: 289, x2: 313, tx: 316, color: RED, label: 'F5 Sealing (OP_3)' },
        ]} />
        <LegendRow y={18.5} items={[
          { x1: 543, x2: 568, tx: 571.5, color: GREEN, label: 'F5 Non-sealing (OP_3)' },
          { x1: 739, x2: 765, tx: 767, color: MAGENTA, label: 'F5 Sealing (OP_3)' },
        ]} />
        <LegendRow y={390.7} items={[
          { x1: 97, x2: 122, tx: 124, color: BLUE, label: 'F5 Non-sealing (OP_4)' },
          { x1: 289, x2: 313, tx: 316, color: RED, label: 'F5 Sealing (OP_4)' },
        ]} />
        <LegendRow y={383.5} items={[
          { x1: 543, x2: 568, tx: 571.5, color: GREEN, label: 'F5 Non-sealing (OP_4)' },
          { x1: 739, x2: 765, tx: 767, color: MAGENTA, label: 'F5 Sealing (OP_4)' },
        ]} />

        <RateLabel cx={20} cy={161} />
        <BhpLabel cx={472} cy={157.5} />
        <RateLabel cx={20} cy={527} />
        <BhpLabel cx={472} cy={523.5} />

        <TimeLabel cx={262} cy={316} />
        <TimeLabel cx={712.5} cy={315.5} />
        <TimeLabel cx={262} cy={681.5} />
        <TimeLabel cx={712.5} cy={681} />

        <Caption cx={237} y={346} w={402} text={'(a) Oil production rate from OP\u2009_3 drilled as the first well'} />
        <Caption cx={692.5} y={346} w={329} text={'(b) Pressure from OP\u2009_3 drilled as the first well'} />
        <Caption cx={237} y={711.5} w={402} text={'(c) Oil production rate from OP\u2009_4 drilled as the first well'} />
        <Caption cx={692.5} y={711.5} w={328} text={'(d) Pressure from OP\u2009_4 drilled as the first well'} />
      </svg>
    </div>
  )
}
